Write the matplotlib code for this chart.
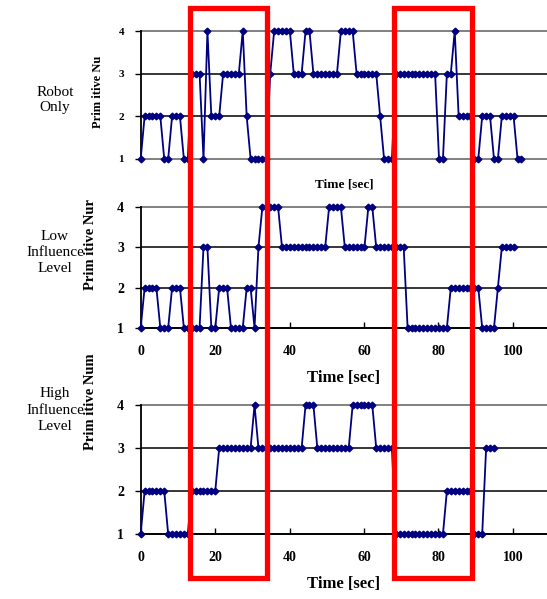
import numpy as np
import matplotlib
matplotlib.use('Agg')
import matplotlib.pyplot as plt
from matplotlib.patches import Rectangle
from matplotlib.transforms import blended_transform_factory

# primitive number runs: level and how many samples it lasts
dt = 1.055  # sampling step [sec]

robot_levels = [1, 2, 1, 2, 1, 3, 1, 4, 2, 3, 4, 2, 1, 3, 4, 3, 4, 3, 4, 3, 2, 1,
                3, 1, 3, 4, 2, 1, 2, 1, 2, 1]
robot_counts = [1, 5, 2, 3, 2, 3, 1, 1, 3, 5, 1, 1, 5, 1, 5, 3, 2, 7, 4, 6, 1, 3,
                11, 2, 2, 1, 4, 2, 3, 2, 4, 2]

low_levels = [1, 2, 1, 2, 1, 3, 1, 2, 1, 2, 1, 3, 4, 3, 4, 3, 4, 3, 1, 2, 1, 2, 3]
low_counts = [1, 4, 3, 3, 5, 2, 2, 3, 4, 2, 1, 1, 5, 12, 4, 6, 2, 8, 11, 8, 4, 1, 4]

high_levels = [1, 2, 1, 2, 3, 4, 3, 4, 3, 4, 3, 1, 2, 1, 3]
high_counts = [1, 6, 6, 7, 9, 1, 12, 3, 9, 6, 5, 13, 7, 3, 3]

row_names = ['Robot\nOnly', 'Low\nInfluence\nLevel', 'High\nInfluence\nLevel']
ylabels = ['Prim itive Nu', 'Prim itive Nur', 'Prim itive Num']
xticks = [0, 20, 40, 60, 80, 100]
yticks = [1, 2, 3, 4]

# highlighted time windows [sec]
windows = [(13.25, 33.9), (68.1, 89.1)]

serif = ['Liberation Serif', 'DejaVu Serif']
navy = '#000080'

fig = plt.figure(figsize=(5.47, 5.99), dpi=100)

left = 0.2572
width = 1.0 - left
boxes = [(0.7346, 0.9482), (0.4524, 0.6544), (0.1085, 0.3239)]
data = [(robot_levels, robot_counts), (low_levels, low_counts), (high_levels, high_counts)]

axes = []
for k in range(3):
    b, t = boxes[k]
    ax = fig.add_axes([left, b, width, t - b])
    lev, cnt = data[k]
    y = np.repeat(lev, cnt)
    x = np.arange(len(y)) * dt
    ax.plot(x, y, color=navy, lw=1.3, marker='D', ms=3.4, mec=navy, mfc=navy,
            clip_on=False, zorder=3)
    ax.set_xlim(0, 109.2)
    ax.set_ylim(1, 4)
    ax.axhline(2, color='black', lw=1.1, zorder=1)
    ax.axhline(3, color='black', lw=1.1, zorder=1)
    ax.axhline(4, color='#808080', lw=1.4, zorder=1, clip_on=False)
    for s in ['top', 'right']:
        ax.spines[s].set_visible(False)
    ax.spines['left'].set_color('black')
    ax.spines['left'].set_linewidth(1.3)
    fs = 8 if k == 0 else 10
    ax.set_yticks(yticks)
    ax.set_yticklabels([str(v) for v in yticks], fontfamily=serif, fontweight='bold', fontsize=fs)
    ax.tick_params(axis='y', direction='out', length=4, width=1, pad=8)
    if k == 0:
        ax.spines['bottom'].set_color('#808080')
        ax.spines['bottom'].set_linewidth(1.4)
        ax.set_xticks([])
        ax.set_xlabel('Time [sec]', fontfamily=serif, fontweight='bold', fontsize=9.5, labelpad=14)
    else:
        ax.spines['bottom'].set_color('black')
        ax.spines['bottom'].set_linewidth(1.4)
        ax.set_xticks(xticks)
        ax.set_xticklabels([str(v) for v in xticks], fontfamily=serif, fontweight='bold', fontsize=10)
        ax.tick_params(axis='x', direction='in', length=4, width=1, pad=12)
        ax.set_xlabel('Time [sec]', fontfamily=serif, fontweight='bold', fontsize=12, labelpad=9)
    ax.patch.set_alpha(0)
    axes.append(ax)

# y labels and row names
ylab_pos = [(98, 92), (90, 245), (90, 402)]
name_pos = [(55, 100), (55, 253), (55, 410)]
for k in range(3):
    fs = 9 if k == 0 else 10.5
    fig.text(ylab_pos[k][0] / 547, 1 - ylab_pos[k][1] / 599, ylabels[k], rotation=90,
             ha='center', va='center', fontfamily=serif, fontweight='bold', fontsize=fs)
    fig.text(name_pos[k][0] / 547, 1 - name_pos[k][1] / 599, row_names[k],
             ha='center', va='center', fontfamily=serif, fontsize=11, linespacing=1.3)

# red highlight boxes spanning all panels
tr = blended_transform_factory(axes[2].transData, fig.transFigure)
for a, b in windows:
    fig.patches.append(Rectangle((a, 0.035), b - a, 0.9866 - 0.035, transform=tr,
                                 fill=False, edgecolor='#ff0000', lw=3.8, zorder=10))

fig.savefig('out.png', dpi=100)
